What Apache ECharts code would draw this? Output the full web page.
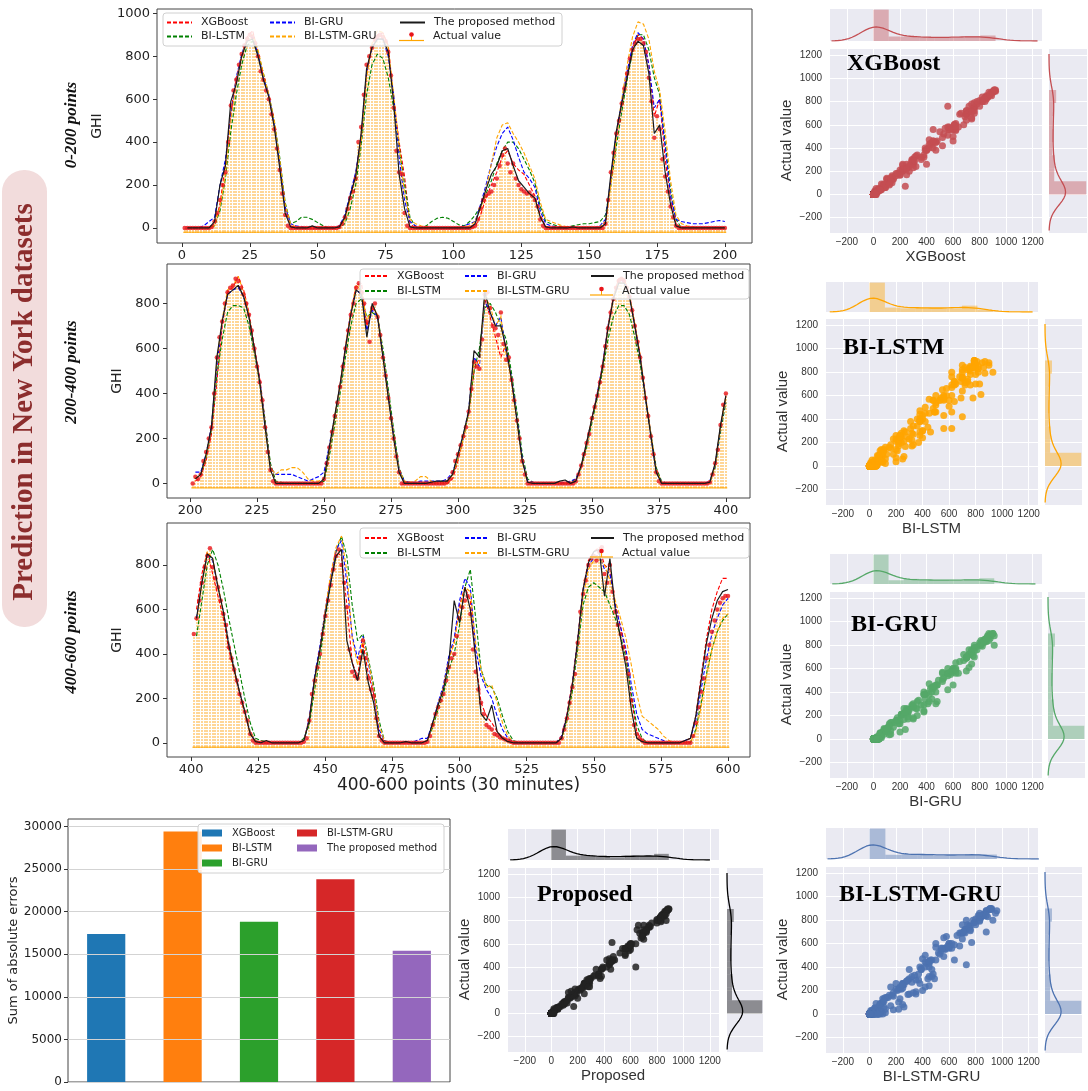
<!DOCTYPE html>
<html>
<head>
<meta charset="utf-8">
<script src="https://cdn.jsdelivr.net/npm/echarts@6/dist/echarts.min.js"></script>
<style>
html, body { margin: 0; padding: 0; background: #fff; }
#chart { width: 1088px; height: 1091px; }
</style>
</head>
<body>
<div id="chart"></div>
<script>
// ------------------------------------------------------------------
// data
// actual GHI, one value per point (panel A: x=1..200, B: 201..400, C: 401..600)
var actualA = [
  0,0,0,0,0,0,0,0,0,0,
  5,30,70,130,200,260,400,570,640,690,760,810,850,880,900,890,860,800,730,690,640,600,530,460,370,270,160,60,10,0,
  0,0,0,0,0,0,0,0,0,0,0,0,0,0,0,0,0,
  5,20,50,90,140,170,230,400,470,620,760,800,840,880,890,900,890,870,820,710,560,360,260,250,70,10,0,
  0,0,0,0,0,0,0,0,0,0,0,0,0,0,0,0,0,0,0,0,0,0,
  5,10,40,90,130,150,160,170,200,230,290,340,370,300,260,300,230,200,180,170,160,165,150,130,100,40,10,0,
  0,0,0,0,0,0,0,0,0,0,0,0,0,0,0,0,0,0,0,0,0,
  20,130,260,350,440,500,580,650,720,790,830,860,880,880,860,820,700,590,420,520,460,320,240,170,100,50,10,0,
  0,0,0,0,0,0,0,0,0,0,0,0,0,0,0,0,0
];
var actualB = [
  0,30,20,40,100,140,200,250,400,560,650,720,800,850,870,880,910,900,870,840,800,750,680,600,520,450,370,250,140,60,10,0,
  0,0,0,0,0,0,0,0,0,0,0,0,0,0,0,0,
  0,20,90,160,230,300,360,430,520,600,680,750,800,870,890,850,800,720,630,780,800,740,660,560,480,380,290,200,120,50,0,
  0,0,0,0,0,0,0,0,0,0,0,0,0,0,0,0,
  5,20,50,100,130,170,210,250,320,420,540,520,510,640,840,850,780,700,690,660,760,620,550,560,460,370,280,200,100,40,0,
  0,0,0,0,0,0,0,0,0,0,0,0,0,0,0,0,0,
  10,40,80,130,180,220,290,340,390,450,520,610,690,760,820,870,900,910,900,870,830,770,700,630,560,470,380,300,210,130,50,10,0,
  0,0,0,0,0,0,0,0,0,0,0,0,0,0,0,0,0,
  5,40,90,150,260,350,400
];
var actualC = [
  490,560,640,720,790,840,875,790,740,700,640,580,530,430,380,330,280,220,180,140,100,40,10,0,
  0,0,0,0,0,0,0,0,0,0,0,0,0,0,0,0,0,
  5,20,100,220,280,340,400,490,570,640,710,780,840,870,800,720,610,420,320,300,290,380,460,380,290,240,210,110,30,10,0,
  0,0,0,0,0,0,0,0,0,0,0,0,0,0,0,
  5,30,80,130,160,190,220,280,340,380,400,480,560,610,640,660,580,420,320,240,180,130,80,70,60,40,35,25,20,15,10,5,0,
  0,0,0,0,0,0,0,0,0,0,0,0,0,0,0,0,0,
  20,60,110,180,250,310,450,590,670,730,800,830,840,820,860,880,760,720,800,680,590,530,490,430,380,310,190,80,40,20,10,0,
  0,0,0,0,0,0,0,0,0,0,0,0,0,0,0,0,0,
  30,90,160,230,290,380,440,500,550,600,630,650,660,660
];

// model predictions, one value every second point (x = 2,4,...,600)
var xgbA = [0,0,0,0,0, 20,110,300,540,700,800,890,920,820,700,610,480,300,90,10, 0,0,0,0,0,0,0,0, 0,40,150,250,420,720,850,900,910,850,600,400,240,20, 0,0,0,0,0,0,0,0,0,0,0, 5,60,140,200,260,330,360,300,270,250,200,150,60,5, 0,0,0,0,0,0,0,0,0,0, 10,220,430,570,720,840,900,880,760,520,600,320,140,20, 0,0,0,0,0,0,0,0,0];
var xgbB = [10,30,100,220,450,700,850,870,920,860,760,610,470,280,80,5, 0,0,0,0,0,0,0,0, 10,140,290,440,610,760,880,890,700,780,750,570,400,220,60, 0,0,0,0,0,0,0,0, 0,20,100,200,310,500,560,820,740,650,560,620,450,290,110,5, 0,0,0,0,0,0,0,0, 10,70,170,290,400,530,700,830,910,910,840,710,570,390,220,60,5, 0,0,0,0,0,0,0,0, 5,80,250,390];
var xgbC = [600,760,860,760,660,560,420,320,220,130,40,5, 0,0,0,0,0,0,0,0, 10,110,290,420,590,740,860,840,620,360,300,450,310,220,40,0, 0,0,0,0,0,0,0, 10,80,170,250,380,450,620,700,640,380,180,120,90,50,25,10,0, 0,0,0,0,0,0,0,0, 30,130,270,470,690,820,860,880,800,780,620,520,400,200,50,10, 0,0,0,0,0,0,0,10,20, 120,300,470,600,680,740,740];

var lstmA = [0,0,0,0,0, 10,80,230,450,620,760,850,870,820,720,620,500,330,120,20, 30,50,50,40,25,10,0,0, 0,20,90,200,380,620,760,810,790,700,560,380,200,50, 5,0,10,30,45,50,45,30,15,10,30, 60,100,160,220,300,360,400,400,370,320,270,210,100,30, 20,10,5,5,10,15,20,20,25,30, 60,200,380,540,690,820,900,900,830,700,620,400,180,40, 0,0,0,0,0,0,0,0,0];
var lstmB = [20,40,110,240,480,640,760,790,790,780,700,580,450,280,90,10, 5,0,0,0,0,0,0,0, 10,120,260,400,560,700,800,820,740,760,740,600,420,240,70, 10,0,0,0,0,0,0,10, 10,40,110,200,310,500,600,780,800,760,700,640,490,320,130,20, 5,0,0,0,0,0,0,5, 20,70,160,270,380,500,640,740,790,790,750,650,530,380,220,70,10, 0,0,0,0,0,0,0,0, 5,70,230,360];
var lstmC = [480,640,800,870,800,690,560,440,320,200,90,20, 10,5,0,0,0,0,0,0, 20,80,240,380,560,720,860,930,840,620,460,490,380,260,100,10, 0,0,0,0,0,0,0, 10,70,150,220,330,400,530,700,780,560,330,260,250,200,120,50,10, 0,0,0,0,0,0,0,0, 20,100,230,420,620,700,720,700,680,620,560,480,380,220,80,20, 0,0,0,0,0,0,0,0,0, 60,180,310,420,500,550,580];

var gruA = [0,0,0,10,30, 50,200,320,520,700,810,880,890,810,700,620,480,300,100,20, 10,5,0,0,0,0,0,0, 10,60,160,260,420,720,840,880,880,800,620,330,130,30, 10,0,0,0,0,0,0,0,0,10,20, 30,110,200,300,380,440,470,410,330,260,230,190,80,20, 10,5,0,0,0,0,0,0,0,10, 40,230,440,590,730,850,910,880,760,560,600,380,150,40, 30,25,20,20,20,25,30,35,30];
var gruB = [50,50,130,260,520,720,840,860,870,830,740,600,460,270,70,40, 40,40,40,30,20,10,20,30, 50,170,300,430,600,760,860,840,680,770,740,570,390,210,60, 10,5,5,10,10,10,10,10, 20,50,120,210,330,560,520,810,760,700,740,580,470,290,110,10, 5,0,0,0,0,0,5,10, 20,80,180,290,400,530,700,830,900,900,830,700,560,380,210,50,5, 0,0,0,0,0,0,0,0, 10,80,250,380];
var gruC = [560,720,850,820,700,590,450,340,230,140,50,10, 0,0,0,0,0,0,0,0, 10,110,300,440,600,750,870,910,720,480,380,480,360,230,60,10, 0,0,0,0,0,10,20, 20,90,180,260,390,470,640,740,700,420,300,240,200,120,60,20,5, 0,0,0,0,0,0,0,0, 30,120,260,460,680,800,830,850,780,760,620,520,420,260,130,60, 40,30,20,10,0,0,0,10,20, 100,240,380,490,560,620,650];

var lgA = [0,0,0,0,0, 10,100,250,500,680,800,880,900,830,720,620,500,320,110,20, 5,0,0,0,0,0,0,0, 0,40,130,230,400,700,860,920,910,840,620,380,160,40, 20,10,5,0,0,0,0,0,0,5,10, 30,90,180,300,420,480,490,440,400,350,290,230,120,40, 30,20,10,5,0,0,0,0,0,5, 30,200,420,600,760,890,960,950,880,730,640,450,220,60, 20,10,5,0,0,0,0,0,0];
var lgB = [20,40,120,250,540,730,860,880,920,850,750,600,450,260,70,40, 60,60,70,70,50,20,10,10, 20,150,300,430,600,760,880,860,720,790,750,570,390,210,60, 10,5,10,30,30,10,0,0, 0,40,110,200,320,540,530,830,790,700,740,570,460,280,100,5, 0,0,0,0,0,0,0,0, 10,80,180,290,390,520,690,830,910,910,840,710,570,390,220,60,5, 0,0,0,0,0,0,0,0, 5,80,250,380];
var lgC = [550,720,860,830,710,590,450,340,230,140,50,10, 0,0,0,0,0,0,0,0, 10,100,280,420,600,760,880,930,770,470,350,470,370,240,80,10, 0,0,0,0,0,0,0, 10,80,170,250,370,450,600,700,680,450,330,250,260,180,90,30,5, 0,0,0,0,0,0,0,0, 20,110,250,450,660,780,820,830,800,730,640,560,470,350,220,120, 100,80,60,30,10,0,0,0,5, 50,160,300,420,500,560,580];

var proA = [0,0,0,0,0, 30,200,290,590,670,800,870,880,800,690,610,470,280,70,5, 0,0,0,10,0,0,0,0, 5,50,150,240,440,740,840,880,880,820,580,250,90,5, 0,0,0,0,0,0,0,0,0,0,0, 20,100,180,250,290,360,370,290,220,190,160,140,50,5, 0,0,0,0,5,0,0,0,0,0, 20,250,450,580,700,830,870,850,720,440,480,260,110,10, 0,0,0,0,0,0,0,0,0];
var proB = [20,40,130,250,560,720,840,860,880,830,740,600,450,250,60,0, 0,0,0,0,0,0,0,0, 20,160,300,440,600,750,860,840,650,800,740,560,380,200,50, 0,0,0,0,0,5,10,10, 10,40,130,220,320,590,560,850,760,700,700,600,460,280,100,5, 0,0,0,0,0,10,15,0, 10,80,180,290,390,520,690,820,890,890,830,700,560,380,210,50,0, 0,0,0,0,0,0,0,0, 5,90,260,390];
var proC = [560,720,850,830,700,590,440,330,230,140,40,5, 0,10,0,0,0,0,0,0, 10,100,290,420,580,720,840,870,460,360,280,420,270,180,30,0, 0,0,0,5,0,0,0, 10,90,170,240,360,640,540,700,600,380,130,100,170,50,20,5,0, 0,0,0,0,0,0,0,0, 20,120,260,460,690,810,860,870,660,830,600,470,340,150,20,5, 0,0,0,0,0,0,0,10,20, 120,280,450,560,640,680,690];

// sum of absolute errors per model
var models = ['XGBoost', 'BI-LSTM', 'BI-GRU', 'BI-LSTM-GRU', 'The proposed method'];
var errors = [17380, 29410, 18820, 23810, 15410];

// tick labels
var tsTicks = [
  [0, 25, 50, 75, 100, 125, 150, 175, 200],
  [200, 225, 250, 275, 300, 325, 350, 375, 400],
  [400, 425, 450, 475, 500, 525, 550, 575, 600]
];
var ghiTicks = [[0, 200, 400, 600, 800, 1000], [0, 200, 400, 600, 800], [0, 200, 400, 600, 800]];
var errTicks = [0, 5000, 10000, 15000, 20000, 25000, 30000];

// ------------------------------------------------------------------
var actualSets = [actualA, actualB, actualC];
var xStart = [1, 201, 401];
var predSets = {
  'XGBoost': [xgbA, xgbB, xgbC],
  'BI-LSTM': [lstmA, lstmB, lstmC],
  'BI-GRU': [gruA, gruB, gruC],
  'BI-LSTM-GRU': [lgA, lgB, lgC],
  'The proposed method': [proA, proB, proC]
};
var lineColors = {
  'XGBoost': '#ff0000', 'BI-LSTM': '#008000', 'BI-GRU': '#0000ff',
  'BI-LSTM-GRU': '#ffa500', 'The proposed method': '#1a1a1a'
};
var barColors = ['#1f77b4', '#ff7f0e', '#2ca02c', '#d62728', '#9467bd'];

var FONT = 'DejaVu Sans';
var SNS = 'Liberation Sans';
var STEM_BASE = -20;
var plain = function (v) { return String(v); };
var minus = function (v) { return String(v).replace('-', '\u2212'); };

var grids = [], xAxes = [], yAxes = [], series = [], legends = [], elements = [];

function addGrid(box, xa, ya, extra) {
  var g = { left: box[0], top: box[1], width: box[2], height: box[3] };
  if (extra) { for (var k in extra) g[k] = extra[k]; }
  grids.push(g);
  var i = grids.length - 1;
  xa.gridIndex = i; ya.gridIndex = i;
  xAxes.push(xa); yAxes.push(ya);
  return i;
}

// ---------------- time-series panels ----------------
var tsBoxes = [[157, 9, 595, 234], [167, 264, 583, 234], [167, 523, 583, 234]];
var tsXRange = [[-9.2, 210], [191.4, 409], [391, 608.2]];
var tsYRange = [[-70, 1020], [-65, 975], [-64, 989]];
var tsNameGap = [53, 27, 27];

tsBoxes.forEach(function (box, p) {
  var gi = addGrid(box, {
    type: 'value', min: tsXRange[p][0], max: tsXRange[p][1],
    axisLine: { show: false, onZero: false }, splitLine: { show: false },
    axisTick: { show: true, length: 4, customValues: tsTicks[p], lineStyle: { color: '#333' } },
    axisLabel: { customValues: tsTicks[p], formatter: plain, fontSize: 13, color: '#222', margin: 6, fontFamily: FONT },
    name: p === 2 ? '400-600 points (30 minutes)' : '', nameLocation: 'middle', nameGap: 19,
    nameTextStyle: { fontSize: 17, color: '#222', fontFamily: FONT }
  }, {
    type: 'value', min: tsYRange[p][0], max: tsYRange[p][1],
    axisLine: { show: false, onZero: false }, splitLine: { show: false },
    axisTick: { show: true, length: 4, customValues: ghiTicks[p], lineStyle: { color: '#333' } },
    axisLabel: { customValues: ghiTicks[p], formatter: plain, fontSize: 13, color: '#222', margin: 7, fontFamily: FONT },
    name: 'GHI', nameLocation: 'middle', nameGap: tsNameGap[p],
    nameTextStyle: { fontSize: 14, color: '#222', fontFamily: FONT }
  }, { show: true, borderColor: '#444', borderWidth: 1, backgroundColor: 'transparent' });

  var act = actualSets[p];
  var actPts = act.map(function (v, i) { return [xStart[p] + i, v]; });

  // stems of the actual values
  series.push({
    type: 'custom', xAxisIndex: gi, yAxisIndex: gi, z: 1, clip: true,
    encode: { x: 0, y: 1 }, data: actPts,
    renderItem: function (params, api) {
      var x = api.value(0), v = api.value(1);
      var top = api.coord([x, v]);
      var bot = api.coord([x, STEM_BASE]);
      var l = api.coord([x - 0.5, STEM_BASE]);
      var r = api.coord([x + 0.5, STEM_BASE]);
      var px = Math.round(top[0]);
      return {
        type: 'group', children: [
          { type: 'line', shape: { x1: px, y1: Math.round(bot[1]), x2: px, y2: top[1] },
            style: { stroke: '#ffb84a', lineWidth: 2, lineDash: [2, 1], opacity: 0.58 } },
          { type: 'line', shape: { x1: l[0], y1: bot[1], x2: r[0], y2: bot[1] },
            style: { stroke: '#ffa500', lineWidth: 1.2 } }
        ]
      };
    }
  });

  models.forEach(function (m) {
    var vals = predSets[m][p];
    series.push({
      name: m, type: 'line', xAxisIndex: gi, yAxisIndex: gi,
      symbol: 'none', showSymbol: false, clip: true,
      z: m === 'The proposed method' ? 4 : 2,
      lineStyle: { color: lineColors[m], width: m === 'The proposed method' ? 1.2 : 1.1,
                   type: m === 'The proposed method' ? 'solid' : [4, 2] },
      itemStyle: { color: lineColors[m] },
      data: vals.map(function (v, i) { return [xStart[p] + 1 + 2 * i, v]; })
    });
  });

  series.push({
    name: 'Actual value', type: 'scatter', xAxisIndex: gi, yAxisIndex: gi, z: 3,
    symbol: 'circle', symbolSize: 4.5, itemStyle: { color: '#e8141a' }, data: actPts
  });
});

// ts legends (matplotlib column layout)
var tsLegendPos = [
  { cols: [166, 269, 399], top: 16, gap: 1, w: 25 },
  { cols: [364, 464, 590], top: 269.5, gap: 2, w: 23 },
  { cols: [364, 464, 590], top: 531.5, gap: 2, w: 23 }
];
var tsFrames = [[163, 13, 399, 33], [360, 269, 389, 30], [360, 528, 389, 30]];
var legendText = { fontSize: 11, color: '#222', lineHeight: 13, padding: [0, 0, 0, 4], fontFamily: FONT };
tsLegendPos.forEach(function (lp, p) {
  var cols = [['XGBoost', 'BI-LSTM'], ['BI-GRU', 'BI-LSTM-GRU'], ['The proposed method']];
  cols.forEach(function (names, c) {
    legends.push({
      orient: 'vertical', left: lp.cols[c], top: lp.top, padding: 0, selectedMode: false, z: 60,
      itemWidth: lp.w, itemHeight: 8, itemGap: lp.gap, data: names,
      itemStyle: { opacity: 0 }, textStyle: legendText
    });
  });
  var rowPitch = 13 + lp.gap;
  legends.push({
    orient: 'vertical', left: lp.cols[2], top: lp.top + rowPitch, padding: 0, selectedMode: false, z: 60,
    itemWidth: lp.w, itemHeight: 8, icon: 'rect', itemStyle: { opacity: 0 }, data: ['Actual value'],
    textStyle: legendText
  });
  var fr = tsFrames[p];
  elements.push({ type: 'rect', z: 50, shape: { x: fr[0], y: fr[1], width: fr[2], height: fr[3], r: 3 },
    style: { fill: 'rgba(255,255,255,0.85)', stroke: '#d0d0d0', lineWidth: 1 } });
  var cy = lp.top + rowPitch + 6.5, cx = lp.cols[2] + lp.w / 2;
  elements.push({ type: 'line', z: 55, shape: { x1: lp.cols[2], y1: cy + 4, x2: lp.cols[2] + lp.w, y2: cy + 4 },
    style: { stroke: '#ffa500', lineWidth: 1.2 } });
  elements.push({ type: 'line', z: 55, shape: { x1: cx, y1: cy - 2, x2: cx, y2: cy + 4 },
    style: { stroke: '#ffa500', lineWidth: 1 } });
  elements.push({ type: 'circle', z: 56, shape: { cx: cx, cy: cy - 2, r: 2.3 }, style: { fill: '#e8141a' } });
});

// ---------------- bar chart ----------------
var bi = addGrid([68, 819, 382, 263], {
  type: 'category', data: models, axisLine: { show: false, onZero: false }, axisTick: { show: false },
  axisLabel: { show: false }, splitLine: { show: false }
}, {
  type: 'value', min: 0, max: 30870, minInterval: 5000, maxInterval: 5000, z: 5,
  axisLine: { show: false, onZero: false },
  axisTick: { show: true, length: 4, customValues: errTicks, lineStyle: { color: '#333' } },
  axisLabel: { customValues: errTicks, formatter: plain, fontSize: 12, color: '#222', margin: 6, fontFamily: FONT },
  splitLine: { show: true, lineStyle: { color: '#d3d3d3', width: 1 } },
  name: 'Sum of absolute errors', nameLocation: 'middle', nameGap: 47,
  nameTextStyle: { fontSize: 13, color: '#222', fontFamily: FONT }
}, { show: true, borderColor: '#444', borderWidth: 1, backgroundColor: 'transparent' });

models.forEach(function (m, k) {
  series.push({
    name: 'bar:' + m, type: 'bar', xAxisIndex: bi, yAxisIndex: bi, stack: 'err', barWidth: '50%',
    itemStyle: { color: barColors[k] },
    data: models.map(function (_, j) { return j === k ? errors[k] : '-'; })
  });
});
var barLegendText = { fontSize: 10, color: '#222', lineHeight: 13, padding: [0, 0, 0, 5], fontFamily: FONT };
legends.push({
  orient: 'vertical', left: 202, top: 826.5, padding: 0, selectedMode: false, z: 60, icon: 'rect',
  itemWidth: 20, itemHeight: 7, itemGap: 2, textStyle: barLegendText,
  formatter: function (n) { return n.replace('bar:', ''); },
  data: ['bar:XGBoost', 'bar:BI-LSTM', 'bar:BI-GRU']
});
legends.push({
  orient: 'vertical', left: 297, top: 826.5, padding: 0, selectedMode: false, z: 60, icon: 'rect',
  itemWidth: 20, itemHeight: 7, itemGap: 2, textStyle: barLegendText,
  formatter: function (n) { return n.replace('bar:', ''); },
  data: ['bar:BI-LSTM-GRU', 'bar:The proposed method']
});
elements.push({ type: 'rect', z: 50, shape: { x: 198, y: 824, width: 246, height: 49, r: 3 },
  style: { fill: 'rgba(255,255,255,0.85)', stroke: '#d0d0d0', lineWidth: 1 } });

// ---------------- joint plots ----------------
function histogram(vals, nb) {
  var mn = Math.min.apply(null, vals), mx = Math.max.apply(null, vals);
  var w = (mx - mn) / nb, counts = [];
  for (var k = 0; k < nb; k++) counts.push(0);
  vals.forEach(function (v) { counts[Math.min(nb - 1, Math.floor((v - mn) / w))]++; });
  return counts.map(function (c, k) { return [mn + k * w, mn + (k + 1) * w, c / (vals.length * w)]; });
}
function kde(vals) {
  var n = vals.length, mean = 0, sd = 0;
  vals.forEach(function (v) { mean += v; }); mean /= n;
  vals.forEach(function (v) { sd += (v - mean) * (v - mean); }); sd = Math.sqrt(sd / (n - 1));
  var h = 1.06 * sd * Math.pow(n, -0.2);
  var lo = Math.min.apply(null, vals) - 3 * h, hi = Math.max.apply(null, vals) + 3 * h;
  var out = [];
  for (var s = 0; s <= 120; s++) {
    var x = lo + (hi - lo) * s / 120, d = 0;
    vals.forEach(function (v) { var u = (x - v) / h; d += Math.exp(-0.5 * u * u); });
    out.push([x, d / (n * h * Math.sqrt(2 * Math.PI))]);
  }
  return out;
}

var joints = [
  { model: 'XGBoost', label: 'XGBoost', color: '#c44e52', hist: '#c44e52',
    main: [829, 48, 213, 185], top: [829, 9, 213, 32], right: [1049, 48, 38, 185], title: [847, 64] },
  { model: 'BI-LSTM', label: 'BI-LSTM', color: '#ffa500', hist: '#ffa500',
    main: [825, 318, 213, 187], top: [825, 282, 213, 30], right: [1045, 318, 37, 187], title: [843, 348] },
  { model: 'BI-GRU', label: 'BI-GRU', color: '#55a868', hist: '#55a868',
    main: [829, 591, 213, 187], top: [829, 554, 213, 30], right: [1048, 591, 37, 187], title: [851, 625] },
  { model: 'The proposed method', label: 'Proposed', color: '#222222', hist: '#000000',
    main: [507, 867, 212, 185], top: [507, 829, 212, 31], right: [727, 867, 36, 185], title: [537, 895] },
  { model: 'BI-LSTM-GRU', label: 'BI-LSTM-GRU', color: '#4c72b0', hist: '#4c72b0',
    main: [825, 866, 213, 187], top: [825, 828, 213, 31], right: [1045, 866, 37, 187], title: [839, 895] }
];
var JX = [-335, 1270], JY = [-333, 1262];
var darkGrid = { show: true, backgroundColor: '#eaeaf2', borderWidth: 0 };
var whiteSplit = { show: true, lineStyle: { color: '#ffffff', width: 1 } };

function valueAxis(range, labels) {
  return {
    type: 'value', min: range[0], max: range[1], minInterval: 200, maxInterval: 200,
    axisLine: { show: false, onZero: false }, axisTick: { show: false }, splitLine: whiteSplit,
    axisLabel: labels ? { formatter: minus, fontSize: 10, color: '#333', fontFamily: SNS, margin: 4,
                          showMinLabel: false, showMaxLabel: false } : { show: false }
  };
}
function densityAxis(max) {
  return { type: 'value', min: 0, max: max, axisLine: { show: false, onZero: false }, axisTick: { show: false },
           axisLabel: { show: false }, splitLine: { show: false } };
}

joints.forEach(function (j) {
  var pairs = [], predVals = [], actVals = [];
  for (var p = 0; p < 3; p++) {
    predSets[j.model][p].forEach(function (v, i) {
      var a = actualSets[p][1 + 2 * i];
      pairs.push([v, a]); predVals.push(v); actVals.push(a);
    });
  }
  // main scatter
  var xa = valueAxis(JX, true);
  xa.name = j.label; xa.nameLocation = 'middle'; xa.nameGap = 16;
  xa.nameTextStyle = { fontSize: 15, color: '#333', fontFamily: SNS };
  var ya = valueAxis(JY, true);
  ya.axisLabel.margin = 7;
  ya.name = 'Actual value'; ya.nameLocation = 'middle'; ya.nameGap = 35;
  ya.nameTextStyle = { fontSize: 15, color: '#333', fontFamily: SNS };
  var mi = addGrid(j.main, xa, ya, darkGrid);
  series.push({ name: 'jp-' + j.label, type: 'scatter', xAxisIndex: mi, yAxisIndex: mi,
    symbolSize: 7, itemStyle: { color: j.color, opacity: 0.85 }, data: pairs, z: 3 });

  // top marginal: predictions
  var hTop = histogram(predVals, 8), kTop = kde(predVals);
  var topMax = Math.max.apply(null, hTop.map(function (b) { return b[2]; })) * 1.02;
  var ti = addGrid(j.top, valueAxis(JX, false), densityAxis(topMax), darkGrid);
  series.push({ type: 'custom', xAxisIndex: ti, yAxisIndex: ti, clip: true, data: hTop,
    encode: { x: [0, 1], y: 2 },
    renderItem: (function (col) { return function (params, api) {
      var p0 = api.coord([api.value(0), 0]), p1 = api.coord([api.value(1), api.value(2)]);
      return { type: 'rect', shape: { x: p0[0], y: p1[1], width: p1[0] - p0[0], height: p0[1] - p1[1] },
               style: { fill: col, opacity: 0.4 } };
    }; })(j.hist) });
  series.push({ type: 'line', xAxisIndex: ti, yAxisIndex: ti, symbol: 'none', clip: true,
    lineStyle: { color: j.hist, width: 1.3 }, data: kTop, z: 3 });

  // right marginal: actual values
  var hR = histogram(actVals, 8), kR = kde(actVals);
  var rMax = Math.max.apply(null, hR.map(function (b) { return b[2]; })) * 1.02;
  var ri = addGrid(j.right, densityAxis(rMax), valueAxis(JY, false), darkGrid);
  series.push({ type: 'custom', xAxisIndex: ri, yAxisIndex: ri, clip: true, data: hR,
    encode: { x: 2, y: [0, 1] },
    renderItem: (function (col) { return function (params, api) {
      var p0 = api.coord([0, api.value(0)]), p1 = api.coord([api.value(2), api.value(1)]);
      return { type: 'rect', shape: { x: p0[0], y: p1[1], width: p1[0] - p0[0], height: p0[1] - p1[1] },
               style: { fill: col, opacity: 0.4 } };
    }; })(j.hist) });
  series.push({ type: 'line', xAxisIndex: ri, yAxisIndex: ri, symbol: 'none', clip: true,
    lineStyle: { color: j.hist, width: 1.3 }, data: kR.map(function (q) { return [q[1], q[0]]; }), z: 3 });

  elements.push({ type: 'text', x: j.title[0], y: j.title[1], z: 40,
    style: { text: j.label, font: 'bold 24px "Liberation Serif"', fill: '#000', align: 'left', verticalAlign: 'middle' } });
});

// ---------------- side labels ----------------
elements.push({ type: 'rect', shape: { x: 2, y: 170, width: 45, height: 457, r: 22 }, style: { fill: '#f2dcdc' } });
elements.push({ type: 'text', x: 25, y: 402, rotation: Math.PI / 2,
  style: { text: 'Prediction in New York datasets', font: 'bold 29px "Liberation Serif"', fill: '#8c2d2d',
           align: 'center', verticalAlign: 'middle' } });
[['0-200 points', 125], ['200-400 points', 372], ['400-600 points', 642]].forEach(function (t) {
  elements.push({ type: 'text', x: 72, y: t[1], rotation: Math.PI / 2,
    style: { text: t[0], font: 'italic bold 17px "Liberation Serif"', fill: '#111', align: 'center', verticalAlign: 'middle' } });
});

var chart = echarts.init(document.getElementById('chart'));
chart.setOption({
  animation: false,
  textStyle: { fontFamily: FONT },
  grid: grids,
  xAxis: xAxes,
  yAxis: yAxes,
  legend: legends,
  graphic: { elements: elements },
  series: series
});
</script>
</body>
</html>
